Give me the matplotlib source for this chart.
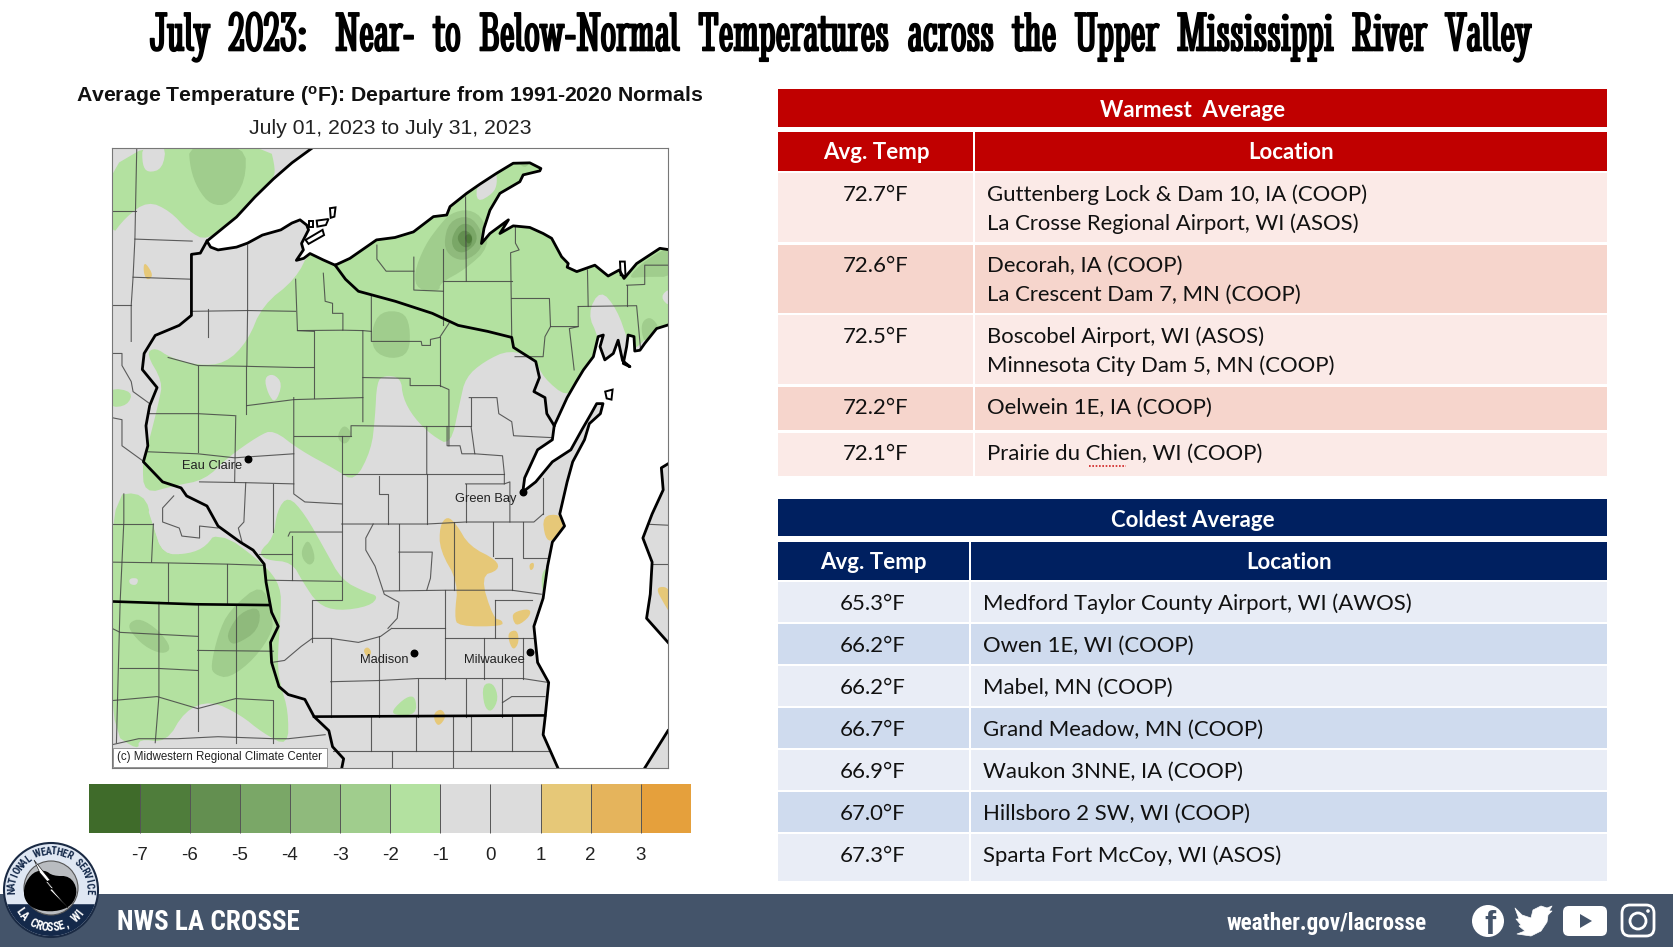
import matplotlib
matplotlib.use("Agg")
from matplotlib import pyplot as plt
from matplotlib import patheffects
from matplotlib.patches import Rectangle, Polygon, Circle, Ellipse, FancyBboxPatch
from matplotlib.colors import ListedColormap, BoundaryNorm
from matplotlib.cm import ScalarMappable
import numpy as np
import logging

logging.getLogger("matplotlib.font_manager").setLevel(logging.ERROR)
plt.rcParams["axes.unicode_minus"] = False

W, H = 1674, 947
BODY = ["Lato", "DejaVu Sans"]
SLAB = ["Stint Ultra Condensed", "DejaVu Serif"]
NARROW = ["Roboto Condensed", "Liberation Sans", "DejaVu Sans"]
ARIAL = ["Liberation Sans", "DejaVu Sans"]

# table data
warm_temps = ["72.7°F", "72.6°F", "72.5°F", "72.2°F", "72.1°F"]
warm_places = [["Guttenberg Lock & Dam 10, IA (COOP)", "La Crosse Regional Airport, WI (ASOS)"],
               ["Decorah, IA (COOP)", "La Crescent Dam 7, MN (COOP)"],
               ["Boscobel Airport, WI (ASOS)", "Minnesota City Dam 5, MN (COOP)"],
               ["Oelwein 1E, IA (COOP)"],
               ["Prairie du Chien, WI (COOP)"]]
cold_temps = ["65.3°F", "66.2°F", "66.2°F", "66.7°F", "66.9°F", "67.0°F", "67.3°F"]
cold_places = ["Medford Taylor County Airport, WI (AWOS)", "Owen 1E, WI (COOP)", "Mabel, MN (COOP)",
               "Grand Meadow, MN (COOP)", "Waukon 3NNE, IA (COOP)", "Hillsboro 2 SW, WI (COOP)",
               "Sparta Fort McCoy, WI (ASOS)"]

# colour bar
bar_levels = [-8, -7, -6, -5, -4, -3, -2, -1, 0, 1, 2, 3, 4]
bar_ticks = [-7, -6, -5, -4, -3, -2, -1, 0, 1, 2, 3]
bar_colors = ["#3f6b2a", "#4f7d3b", "#638f50", "#7aa767", "#8fba7c", "#a0cd8d", "#b3e1a0",
              "#dcdcdc", "#dcdcdc", "#e6c878", "#e5b45c", "#e5a03c"]

# map shapes (map box runs x 33-1538, y 18-1563)
green_areas = [
    [(25,10),(460,10),(475,70),(470,95),(370,190),(290,250),(240,225),(190,175),(130,150),(70,190),(25,245)],
    [(530,345),(440,410),(400,500),(340,555),(265,560),(190,540),(150,515),(125,530),(170,600),(160,650),(130,760),
     (115,800),(120,880),(200,860),(285,845),(345,790),(430,735),(470,720),(540,770),(640,820),(690,850),(735,770),
     (745,690),(750,600),(770,585),(815,590),(820,640),(850,690),(900,735),(950,760),(975,650),(990,590),(1040,550),
     (1110,520),(1180,545),(1200,590),(1265,640),(1290,600),(1350,540),(1350,490),(1320,430),(1355,370),(1400,420),
     (1430,500),(1445,525),(1500,470),(1560,450),(1560,250),(1200,30),(1100,30),(640,290),(570,270)],
    [(25,885),(120,875),(145,960),(170,1030),(240,1030),(320,970),(445,1055),(490,1110),(490,1180),(480,1300),
     (490,1360),(510,1420),(510,1510),(440,1475),(380,1430),(300,1395),(230,1420),(180,1500),(105,1490),(105,1520),
     (25,1470)],
    [(470,990),(480,920),(510,885),(555,930),(610,1020),(655,1095),(720,1125),(755,1135),(730,1160),(645,1172),
     (590,1155),(550,1100),(520,1050),(450,1045),(430,1025)],
    [(25,615),(90,625),(75,660),(25,665)],
    [(1035,1355),(1065,1350),(1080,1390),(1060,1425),(1040,1410)],
    [(790,1420),(830,1385),(855,1385),(857,1430),(800,1432)],
    [(1195,1080),(1212,1060),(1215,1130),(1198,1130)],
]
grey_patches = [
    [(115,10),(180,10),(170,70),(130,80),(115,60)],
    [(445,590),(470,580),(495,605),(475,655),(455,630)],
    [(1516,389),(1545,365),(1545,416)],
    [(125,905),(215,870),(290,905),(320,965),(290,1010),(240,1030),(170,1030),(145,960)],
    [(80,1090),(105,1090),(100,1108),(80,1105)],
    [(1020,106),(1072,70),(1076,106),(1065,131),(1020,155)],
]
dark_areas = [
    ("#a0cd8d", [(240,10),(395,10),(395,100),(350,160),(300,160),(265,120),(245,70)]),
    ("#a0cd8d", [(850,330),(880,260),(920,210),(950,180),(1000,170),(1040,195),(1055,265),(990,320),(920,355),(920,375),(860,372)]),
    ("#a0cd8d", [(735,470),(760,425),(820,425),(840,460),(838,530),(790,545),(740,525)]),
    ("#a0cd8d", [(640,740),(660,705),(685,730),(665,760)]),
    ("#a0cd8d", [(545,1020),(565,990),(585,1040),(570,1060),(550,1045)]),
    ("#a0cd8d", [(300,1310),(320,1230),(350,1170),(440,1100),(465,1180),(470,1220),(420,1290),(350,1340),(310,1330)]),
    ("#a0cd8d", [(80,1200),(110,1190),(160,1220),(195,1265),(170,1280),(120,1260),(80,1220)]),
    ("#a0cd8d", [(1426,343),(1480,295),(1560,255),(1560,339),(1471,339)]),
    ("#a0cd8d", [(1465,470),(1471,447),(1493,439),(1516,467),(1490,480),(1475,505)]),
    ("#a0cd8d", [(1120,40),(1170,45),(1150,72)]),
    ("#8fba7c", [(345,1225),(380,1175),(435,1160),(430,1220),(370,1255),(350,1250)]),
    ("#8fba7c", [(930,260),(945,200),(1000,185),(1035,225),(1035,270),(990,300),(950,290)]),
    ("#7aa767", [(950,245),(975,205),(1010,210),(1025,250),(990,280),(960,275)]),
    ("#638f50", [(965,240),(985,220),(1010,235),(1005,265),(980,265)]),
    ("#4f7d3b", [(985,240),(1000,230),(1010,245),(998,260)]),
]
warm_areas = [
    [(920,960),(940,935),(965,955),(1000,1010),(1075,1045),(1080,1070),(1030,1085),(1065,1190),(1090,1195),(1090,1210),(970,1210),(960,1185),(970,1100),(920,1020)],
    [(1198,935),(1245,930),(1258,960),(1225,1000),(1205,990)],
    [(1118,1175),(1165,1165),(1165,1185),(1130,1210),(1118,1195)],
    [(1105,1225),(1130,1218),(1135,1250),(1120,1270),(1108,1250)],
    [(905,1425),(925,1415),(938,1435),(918,1460),(905,1445)],
    [(712,1270),(725,1260),(737,1275),(725,1288)],
    [(1162,1055),(1175,1050),(1175,1065),(1165,1072)],
    [(118,310),(125,305),(145,335),(130,348),(120,335)],
    [(1505,1115),(1530,1110),(1545,1125),(1545,1180),(1525,1150)],
]
lake_superior = [(575,18),(520,55),(470,95),(420,140),(370,190),(330,220),(290,250),(300,265),(320,272),(370,265),
                 (400,255),(440,235),(490,222),(520,205),(542,197),(560,210),(565,222),(546,256),(551,272),(532,298),
                 (552,293),(569,281),(605,297),(637,310),(677,293),(749,247),(799,241),(849,227),(903,189),(939,185),
                 (948,164),(993,131),(1029,108),(1074,81),(1119,56),(1164,55),(1194,69),(1191,75),(1146,85),(1137,102),
                 (1083,131),(1056,173),(1040,218),(1033,256),(1056,231),(1106,197),(1083,231),(1119,212),(1164,216),
                 (1200,231),(1223,243),(1250,289),(1268,306),(1265,315),(1291,326),(1340,310),(1376,337),(1406,322),
                 (1419,343),(1453,306),(1516,268),(1538,271)]
lake_michigan = [(1538,459),(1507,468),(1475,505),(1462,522),(1448,524),(1446,488),(1430,484),(1426,513),(1417,555),
                 (1435,563),(1415,548),(1403,497),(1390,530),(1367,546),(1354,513),(1363,484),(1349,488),(1336,538),
                 (1309,571),(1290,600),(1265,640),(1230,710),(1225,745),(1185,770),(1165,810),(1150,840),(1145,875),
                 (1180,850),(1225,800),(1275,770),(1305,720),(1330,680),(1345,655),(1362,655),(1355,680),(1325,705),
                 (1312,745),(1280,800),(1265,850),(1245,930),(1258,960),(1225,1000),(1212,1060),(1200,1140),(1175,1210),
                 (1185,1300),(1215,1350),(1205,1440),(1200,1480),(1240,1563)]
michigan_shore = [(1475,1563),(1538,1470)]
michigan_west = [(1538,1250),(1480,1190),(1490,1130),(1495,1050),(1470,990),(1495,930),(1525,870),(1520,815),(1538,805)]
islands = [[(623,168),(638,166),(635,189),(625,192)], [(587,199),(619,195),(612,210),(589,214)],
           [(557,247),(603,222),(607,235),(565,257)], [(1368,625),(1388,620),(1385,645),(1372,642)],
           [(565,199),(578,199),(578,214),(566,214)], [(1408,301),(1421,301),(1423,337),(1410,335)]]
mn_wi_line = [(290,250),(272,280),(248,283),(248,435),(215,460),(150,485),(120,530),(115,570),(155,615),(135,660),
              (125,710),(130,760),(118,800),(170,850),(220,865),(235,885),(290,910),(320,960),(380,1000),(415,1020),
              (445,1055),(450,1100),(465,1175),(483,1210),(462,1250),(465,1300),(485,1360),(510,1380),(555,1392),
              (580,1435),(620,1470),(630,1510),(660,1540),(655,1563)]
mi_wi_line = [(637,310),(665,345),(700,375),(800,400),(900,430),(970,460),(1050,475),(1115,490),(1120,515),(1180,550),
              (1190,590),(1175,625),(1205,640),(1210,680),(1230,710)]
mn_ia_line = [(33,1148),(260,1155),(455,1157)]
wi_il_line = [(580,1435),(1205,1432)]
county_lines = [
    [(100,18),(95,245),(90,340),(85,410),(85,500)], [(33,175),(97,175)], [(95,245),(250,250)], [(90,340),(248,345)],
    [(33,410),(85,410)], [(33,530),(60,530),(60,560),(85,600),(90,625),(135,655)], [(33,690),(60,695),(60,760),(120,800)],
    [(132,680),(265,680),(365,685)], [(293,420),(293,490)], [(248,425),(400,423),(530,425)], [(400,260),(400,423),(398,560)],
    [(185,540),(265,560),(395,562),(530,565),(580,565)], [(265,560),(265,775)], [(530,345),(535,473),(580,475)],
    [(605,330),(610,400),(630,405),(630,430),(658,430),(658,472),(535,473)], [(580,473),(580,640)],
    [(658,472),(712,473),(712,700)], [(712,473),(735,475)], [(735,385),(735,500),(870,500),(872,510),(895,510),(895,495),(920,490),(945,455)],
    [(712,590),(840,592),(840,610),(920,610),(945,620),(945,760)], [(920,490),(920,610)], [(398,660),(525,645),(712,640)],
    [(395,562),(395,680)], [(368,685),(365,850)], [(525,640),(525,880),(555,900),(655,905)], [(525,735),(680,735)],
    [(680,735),(680,710),(885,712),(885,830)], [(655,735),(655,1145),(575,1145),(575,1250)], [(655,830),(885,830),(1095,830)],
    [(130,775),(265,780),(365,790),(525,780)], [(270,850),(395,852),(525,855)],
    [(885,712),(1005,712),(1015,780),(1090,785),(1095,830),(1095,855)], [(1000,640),(1075,640),(1080,680),(1115,700),(1120,735),(1230,740)],
    [(1005,640),(1005,712)], [(940,712),(940,760),(975,760),(980,780),(1015,780)], [(755,835),(755,880),(780,880),(780,955)],
    [(885,830),(885,955)], [(655,955),(885,955),(990,950),(1175,950),(1200,930)], [(990,855),(1095,855),(1110,850),(1110,950)],
    [(990,855),(990,950)], [(1200,840),(1200,930)], [(395,852),(390,950),(375,965),(385,1000)], [(470,855),(470,975)],
    [(200,885),(170,915),(170,950),(215,965),(222,985),(270,990),(270,960),(320,965)], [(145,955),(140,1050)], [(33,955),(145,955)],
    [(65,880),(65,950),(55,1150)], [(33,1050),(185,1052),(345,1055),(445,1058)], [(185,1052),(185,1150)], [(345,1055),(345,1155)],
    [(510,985),(515,975),(655,975)], [(520,985),(520,1095)], [(430,1030),(520,1030)], [(450,1095),(655,1098)],
    [(810,955),(810,1120)], [(810,1025),(900,1025),(895,1090),(885,1120)], [(1065,950),(1065,1035)], [(960,950),(960,1120)],
    [(740,955),(720,990),(720,1020),(745,1060),(770,1130),(810,1150),(805,1190),(780,1215)],
    [(770,1122),(935,1120),(1115,1120),(1195,1130)], [(1115,1040),(1115,1120)], [(1145,950),(1145,1040),(1215,1040)],
    [(1070,1040),(1115,1040)], [(935,1120),(935,1340)], [(1070,1145),(1070,1240)], [(1070,1145),(1170,1145)],
    [(790,1215),(935,1215)], [(935,1240),(1180,1240)], [(755,1235),(755,1435)], [(625,1240),(625,1435)],
    [(465,1300),(500,1295),(545,1260),(575,1240),(625,1240),(700,1250),(760,1235),(790,1215)],
    [(625,1348),(755,1345),(860,1340),(1145,1340),(1215,1350)], [(860,1340),(860,1435)], [(990,1340),(990,1435)],
    [(1090,1340),(1090,1435)], [(1145,1240),(1145,1340)], [(1090,1400),(1115,1385),(1205,1385)], [(1040,1240),(1040,1340)],
    [(735,1435),(735,1520)], [(855,1435),(855,1520)], [(955,1435),(955,1563)], [(1005,1435),(1005,1520)], [(1115,1435),(1115,1520)],
    [(630,1520),(1230,1520)], [(790,1520),(790,1563)],
    [(55,1150),(50,1320),(45,1500)], [(160,1150),(160,1385),(150,1500)], [(265,1155),(265,1470)], [(368,1157),(368,1500)],
    [(33,1215),(55,1225),(265,1235)], [(55,1315),(160,1315),(265,1320)], [(265,1270),(470,1272)],
    [(33,1395),(155,1385),(265,1415),(368,1390),(470,1395)], [(470,1395),(470,1500)],
    [(33,1505),(105,1490),(210,1490),(320,1485),(470,1490),(510,1490),(610,1480)],
    [(750,260),(750,295),(775,325),(850,325)], [(850,290),(850,372),(930,375)], [(930,270),(930,460)],
    [(930,350),(1115,350)], [(990,140),(992,350)], [(1125,214),(1125,255),(1135,272),(1112,279),(1115,488)],
    [(1115,393),(1217,393),(1220,463),(1295,463)], [(1220,463),(1205,488),(1200,538),(1124,538)],
    [(1320,322),(1322,413)], [(1295,413),(1453,411),(1464,522)], [(1295,413),(1295,463),(1271,468),(1284,571)],
    [(1426,360),(1426,411)], [(1426,360),(1475,358),(1475,310),(1538,310)],
    [(1470,955),(1538,958)], [(1495,1055),(1538,1055)],
]
city_names = ["Eau Claire", "Green Bay", "Madison", "Milwaukee"]
city_dots = [(400,792), (1145,875), (851,1277), (1165,1275)]
city_labels = [(305,811), (1045,893), (770,1295), (1068,1294)]

logo_cloud = [(24,885),(33,872),(45,870),(53,876),(70,876),(78,890),(72,906),(55,912),(35,910),(24,900)]
logo_bolt = [(34,860),(50,880),(46,882),(68,908),(50,890),(53,888),(40,873)]
twitter_bird = [(1515,908),(1522,915),(1531,918),(1533,910),(1541,906),(1547,908),(1552,906),(1549,911),(1552,911),(1548,915),
                (1547,922),(1541,931),(1531,936),(1517,934),(1525,931),(1519,926),(1521,925),(1516,919),(1519,919)]


def soften(pts, n=2):
    # corner cutting so the contour blobs are not angular
    p = np.array(pts, dtype=float)
    for _ in range(n):
        q = np.roll(p, -1, axis=0)
        p = np.column_stack([0.75*p + 0.25*q, 0.25*p + 0.75*q]).reshape(-1, 2)
    return p


def fit_width(t, target):
    # condensed families differ a lot, so size the string by its drawn width
    r = fig.canvas.get_renderer()
    t.set_fontsize(t.get_fontsize()*target/t.get_window_extent(r).width)


fig = plt.figure(figsize=(W/100, H/100), dpi=100)
bg = fig.add_axes([0, 0, 1, 1])
bg.set_xlim(0, W)
bg.set_ylim(H, 0)
bg.axis("off")

title = bg.text(838, 37, "July  2023:   Near-  to  Below-Normal  Temperatures  across  the  Upper  Mississippi  River  Valley",
                ha="center", va="center", family=SLAB, fontsize=30, color="black",
                path_effects=[patheffects.withStroke(linewidth=1.2, foreground="black")])
fit_width(title, 1381)
bg.text(390, 96, "Average Temperature ($\\mathregular{^o}$F): Departure from 1991-2020 Normals", ha="center", va="center",
        family=ARIAL, fontweight="bold", fontsize=15.3, color="#111111")
bg.text(390, 128, "July 01, 2023 to July 31, 2023", ha="center", va="center", family=ARIAL, fontsize=15.3, color="#222222")

# map
ax = fig.add_axes([112/W, 1 - 768/H, 556/W, 620/H])
ax.set_xlim(33, 1538)
ax.set_ylim(1563, 18)
ax.set_xticks([])
ax.set_yticks([])
ax.set_facecolor("#dcdcdc")
for s in ax.spines.values():
    s.set_color("#777777")
    s.set_linewidth(0.8)
    s.set_zorder(9)

for a in green_areas:
    ax.add_patch(Polygon(soften(a), fc="#b3e1a0", ec="none", zorder=1))
for a in grey_patches:
    ax.add_patch(Polygon(soften(a), fc="#dcdcdc", ec="none", zorder=1.5))
for c, a in dark_areas:
    ax.add_patch(Polygon(soften(a), fc=c, ec="none", zorder=2))
for a in warm_areas:
    ax.add_patch(Polygon(soften(a), fc="#e6c878", ec="none", zorder=2))
for ln in county_lines:
    xs, ys = zip(*ln)
    ax.plot(xs, ys, color="#444444", lw=0.8, alpha=0.85, zorder=3)

ax.add_patch(Polygon(lake_superior + [(1560,271),(1560,0),(575,0)], fc="white", ec="none", zorder=4))
ax.add_patch(Polygon(lake_michigan + [(1240,1580),(1475,1580)] + michigan_shore + [(1560,1470),(1560,1250)] + michigan_west
                     + [(1560,805),(1560,459)], fc="white", ec="none", zorder=4))
for a in islands:
    ax.add_patch(Polygon(a, fc="white", ec="black", lw=1.4, zorder=5))
for ln, lw in [(lake_superior, 2), (lake_michigan, 2), (michigan_shore, 2), (michigan_west, 2),
               (mn_wi_line, 2), (mi_wi_line, 2), (mn_ia_line, 1.9), (wi_il_line, 1.9)]:
    xs, ys = zip(*ln)
    ax.plot(xs, ys, color="black", lw=lw, zorder=5, solid_joinstyle="round")

xs, ys = zip(*city_dots)
ax.scatter(xs, ys, s=22, color="black", zorder=6)
for name, (x, y) in zip(city_names, city_labels):
    ax.text(x, y, name, ha="center", va="center", family=ARIAL, fontsize=9.3, color="#222222", zorder=6)
ax.add_patch(Rectangle((36, 1512), 578, 48, fc="white", ec="#888888", lw=0.6, zorder=7))
ax.text(46, 1536, "(c) Midwestern Regional Climate Center", ha="left", va="center", family=ARIAL, fontsize=8.3,
        color="#222222", zorder=8)

# colour bar
cax = fig.add_axes([89.5/W, 1 - 833/H, 601.5/W, 49/H])
cmap = ListedColormap(bar_colors)
norm = BoundaryNorm(bar_levels, cmap.N)
cb = fig.colorbar(ScalarMappable(norm=norm, cmap=cmap), cax=cax, orientation="horizontal", ticks=bar_ticks,
                  spacing="uniform", drawedges=True)
cb.outline.set_visible(False)
cb.dividers.set_color("#555555")
cb.dividers.set_linewidth(0.7)
cb.ax.tick_params(length=0, pad=10)
cb.ax.minorticks_off()
for t in cb.ax.get_xticklabels():
    t.set_family(ARIAL)
    t.set_fontsize(13.5)
    t.set_color("#222222")


def band(x0, x1, y0, y1, color, z=1):
    bg.add_patch(Rectangle((x0, y0), x1 - x0, y1 - y0, fc=color, ec="none", zorder=z))


# warmest table
L, R = 778, 1607
band(L, R, 88.5, 127, "#c00000")
band(L, 973.5, 132, 170.5, "#c00000")
band(975.5, R, 132, 170.5, "#c00000")
bg.text((L + R)/2, 110, "Warmest  Average", ha="center", va="center", family=BODY, fontweight="bold", fontsize=16, color="white")
bg.text(876, 152, "Avg. Temp", ha="center", va="center", family=BODY, fontweight="bold", fontsize=16, color="white")
bg.text(1291, 152, "Location", ha="center", va="center", family=BODY, fontweight="bold", fontsize=16, color="white")
warm_rows = [(173, 242), (244.5, 313), (315, 384), (386.5, 430), (432.5, 476)]
for i, (t0, t1) in enumerate(warm_rows):
    c = "#fbeae7" if i % 2 == 0 else "#f6d5cc"
    band(L, 973.5, t0, t1, c)
    band(975.5, R, t0, t1, c)
    bg.text(876, t0 + 21.5, warm_temps[i], ha="center", va="center", family=BODY, fontsize=15.9, color="#111111")
    for j, p in enumerate(warm_places[i]):
        bg.text(987, t0 + 21.5 + j*29, p, ha="left", va="center", family=BODY, fontsize=15.9, color="#111111")
# spell check squiggle under the word Chien
bg.plot([1089, 1126], [466, 466], color="#d02020", lw=1.2, ls=(0, (1, 1)), zorder=3)

# coldest table
band(L, R, 498.5, 536, "#002060")
band(L, 969, 542, 580, "#002060")
band(971, R, 542, 580, "#002060")
bg.text((L + R)/2, 520, "Coldest Average", ha="center", va="center", family=BODY, fontweight="bold", fontsize=16, color="white")
bg.text(873, 562, "Avg. Temp", ha="center", va="center", family=BODY, fontweight="bold", fontsize=16, color="white")
bg.text(1289, 562, "Location", ha="center", va="center", family=BODY, fontweight="bold", fontsize=16, color="white")
for i in range(len(cold_temps)):
    t0 = 582 + i*42
    t1 = t0 + 40 if i < 6 else 881
    c = "#e9edf6" if i % 2 == 0 else "#cfdbee"
    band(L, 969, t0, t1, c)
    band(971, R, t0, t1, c)
    bg.text(873, t0 + 21.5, cold_temps[i], ha="center", va="center", family=BODY, fontsize=15.9, color="#111111")
    bg.text(983, t0 + 21.5, cold_places[i], ha="left", va="center", family=BODY, fontsize=15.9, color="#111111")

# footer
FOOT = "#44546a"
band(0, W, 894, H, FOOT, z=2)
t = bg.text(117, 922, "NWS LA CROSSE", ha="left", va="center", family=NARROW, fontweight="bold", fontsize=24, color="white", zorder=3)
fit_width(t, 183)
t = bg.text(1427, 923, "weather.gov/lacrosse", ha="right", va="center", family=NARROW, fontweight="bold", fontsize=20, color="white", zorder=3)
fit_width(t, 200)

# facebook
bg.add_patch(Circle((1488, 921), 16, fc="white", ec="none", zorder=3))
bg.text(1490, 925, "f", ha="center", va="center", family=ARIAL, fontweight="bold", fontsize=24, color=FOOT, zorder=4)
# twitter
bg.add_patch(Polygon(twitter_bird, fc="white", ec="white", lw=0.5, joinstyle="round", zorder=3))
# youtube
bg.add_patch(FancyBboxPatch((1567, 910), 36, 22, boxstyle="round,pad=4,rounding_size=6", fc="white", ec="none", zorder=3))
bg.add_patch(Polygon([(1580,914),(1592,921),(1580,928)], fc=FOOT, ec="none", zorder=4))
# instagram
bg.add_patch(FancyBboxPatch((1625, 908), 26, 25, boxstyle="round,pad=3,rounding_size=8", fc="none", ec="white", lw=2, zorder=3))
bg.add_patch(Circle((1638, 921), 8, fc="none", ec="white", lw=2, zorder=3))
bg.add_patch(Circle((1648, 911), 1.8, fc="white", ec="none", zorder=3))

# logo
LX, LY = 51, 890
bg.add_patch(Ellipse((LX, LY), 94, 94, fc="#dfe7f3", ec="#1a2a44", lw=1.5, zorder=5))
th = np.radians(np.linspace(18, 162, 40))
bg.add_patch(Polygon(np.column_stack([LX + 46*np.cos(th), LY + 46*np.sin(th)]), fc="#14294a", ec="none", zorder=6))
bg.add_patch(Circle((LX, LY - 2), 27, fc="#b9bcc0", ec="#555555", lw=0.8, zorder=7))
bg.add_patch(Polygon(soften(logo_cloud), fc="black", ec="none", zorder=8))
bg.add_patch(Polygon(logo_bolt, fc="white", ec="black", lw=0.4, zorder=9))


def arc_text(s, start, end, radius, color, bottom, size):
    # one rotated letter at a time round the seal; y runs downward here
    for ch, a in zip(s, np.linspace(start, end, len(s))):
        x = LX + radius*np.cos(np.radians(a))
        y = LY + radius*np.sin(np.radians(a))
        rot = 90 - a if bottom else 270 - a
        bg.text(x, y, ch, ha="center", va="center", rotation=rot, rotation_mode="anchor", family=NARROW,
                fontweight="bold", fontsize=size, color=color, zorder=10)


arc_text("NATIONAL WEATHER SERVICE", 178, 362, 38.5, "#14294a", False, 7.5)
arc_text("LA CROSSE, WI", 145, 38, 37.5, "white", True, 8.5)

fig.savefig("out.png", dpi=100)
